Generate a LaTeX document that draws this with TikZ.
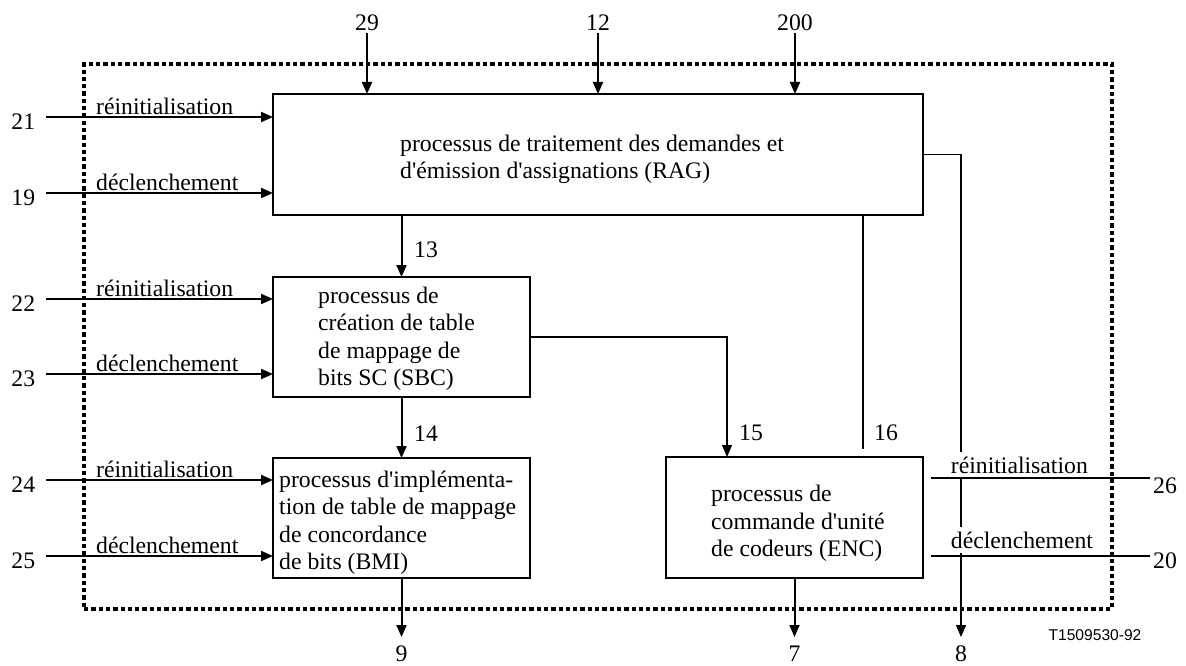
\documentclass[tikz,border=0pt]{standalone}
\usepackage{fontspec}
\setmainfont{Liberation Serif}
\newfontfamily\labsans{Liberation Sans}
\usetikzlibrary{arrows.meta}
\newcommand\myap{\textquotesingle}
\begin{document}
\begin{tikzpicture}[x=1pt,y=-1pt,
  txt/.style={font=\fontsize{23.7}{27.5}\selectfont, inner sep=0pt},
  num/.style={txt, anchor=base},
  lab/.style={txt, anchor=base west},
  box/.style={draw, line width=1.4pt, inner sep=0pt, outer sep=0pt, minimum width=257pt, minimum height=120pt},
  arr/.style={line width=2pt, -{Triangle[width=10pt,length=12pt]}},
  thinarr/.style={line width=1.3pt, -{Triangle[width=10pt,length=12pt]}},
  wire/.style={line width=2pt},
  frame/.style={draw, line width=4pt, dash pattern=on 4.3pt off 3pt, inner sep=0pt, outer sep=0pt},
  ]
\useasboundingbox (0,0) rectangle (1186,666);

% dotted frame
\node[frame, minimum width=1028pt, minimum height=544.5pt] (frm) at (598,336.25) {};

% boxes
\node[box, minimum width=650pt, minimum height=121pt] (RAG) at (598,154.5) {};
\node[box] (SBC) at (401.5,337) {};
\node[box] (BMI) at (401.5,518) {};
\node[box, minimum height=121pt] (ENC) at (794.5,517.5) {};

% box texts
\node[lab] (tRAG) at (400,151) {\begin{tabular}[t]{@{}l@{}}processus de traitement des demandes et\\ d\myap émission d\myap assignations (RAG)\end{tabular}};
\node[lab] (tSBC) at (318,303) {\begin{tabular}[t]{@{}l@{}}processus de\\ création de table\\ de mappage de\\ bits SC (SBC)\end{tabular}};
\node[lab] (tBMI) at (279,487) {\begin{tabular}[t]{@{}l@{}}processus d\myap implémenta-\\ tion de table de mappage\\ de concordance\\ de bits (BMI)\end{tabular}};
\node[lab] (tENC) at (711,501.5) {\begin{tabular}[t]{@{}l@{}}processus de\\ commande d\myap unité\\ de codeurs (ENC)\end{tabular}};

% top inputs
\node[num] (n29) at (367,30.5) {29};
\node[num] (n12) at (598,30.5) {12};
\node[num] (n200) at (795,30.5) {200};
\draw[arr] ([yshift=-2.5pt]n29.south) -- (n29.south |- RAG.north);
\draw[arr] ([yshift=-2.5pt]n12.south) -- (n12.south |- RAG.north);
\draw[arr] ([yshift=-2.5pt]n200.south) -- (n200.south |- RAG.north);

% left inputs
\coordinate (i21) at (46,117);
\coordinate (i19) at (46,193);
\coordinate (i22) at (46,299);
\coordinate (i23) at (46,374);
\coordinate (i24) at (46,480);
\coordinate (i25) at (46,556);
\node[num] (n21) at (23.3,129.5) {21};
\node[num] (n19) at (23.3,205.5) {19};
\node[num] (n22) at (23.3,311.5) {22};
\node[num] (n23) at (23.3,386.5) {23};
\node[num] (n24) at (23.3,492.5) {24};
\node[num] (n25) at (23.3,568.5) {25};
\draw[arr] (i21) -- (i21 -| RAG.west);
\draw[arr] (i19) -- (i19 -| RAG.west);
\draw[arr] (i22) -- (i22 -| SBC.west);
\draw[arr] (i23) -- (i23 -| SBC.west);
\draw[arr] (i24) -- (i24 -| BMI.west);
\draw[arr] (i25) -- (i25 -| BMI.west);
\node[lab] (l21) at (96,114.5) {réinitialisation};
\node[lab] (l19) at (96,190.5) {déclenchement};
\node[lab] (l22) at (96,296.5) {réinitialisation};
\node[lab] (l23) at (96,371.5) {déclenchement};
\node[lab] (l24) at (96,477.5) {réinitialisation};
\node[lab] (l25) at (96,553.5) {déclenchement};

% internal connectors
\draw[arr] (SBC.north |- RAG.south) -- (SBC.north);
\node[lab] (n13) at (414,257) {13};
\draw[arr] (SBC.south) -- (BMI.north);
\node[lab] (n14) at (414,441) {14};
\draw[thinarr] (SBC.east) -| ([xshift=61pt]ENC.north west);
\node[lab] (n15) at (739,440) {15};
\draw[wire] ([xshift=-60pt]RAG.south east) -- ++(0,234);
\node[lab] (n16) at (874,440) {16};

% outputs
\coordinate (o8) at (961,637);
\draw[thinarr] (RAG.east) -| (o8);
\draw[arr] (BMI.south) -- (BMI.south |- o8);
\draw[arr] (ENC.south) -- (ENC.south |- o8);
\node[num] (n9) at (401.5,661.5) {9};
\node[num] (n7) at (794.5,661.5) {7};
\node[num] (n8) at (961,661.5) {8};

% right inputs
\node[lab, fill=white, inner ysep=5pt] (l26) at (950.7,473) {réinitialisation};
\node[lab, fill=white, inner ysep=5pt] (l20) at (950.7,548) {déclenchement};
\coordinate (r26) at (1150,478);
\coordinate (r20) at (1150,556);
\draw[wire] ([xshift=8pt]ENC.east |- r26) -- (r26);
\draw[wire] ([xshift=8pt]ENC.east |- r20) -- (r20);
\node[num] (n26) at (1165,493) {26};
\node[num] (n20) at (1165,568) {20};

% reference code
\node[font=\labsans\fontsize{15.6}{18}\selectfont, inner sep=0pt, anchor=base] (code) at (1095,640.5) {T1509530-92};
\end{tikzpicture}
\end{document}
